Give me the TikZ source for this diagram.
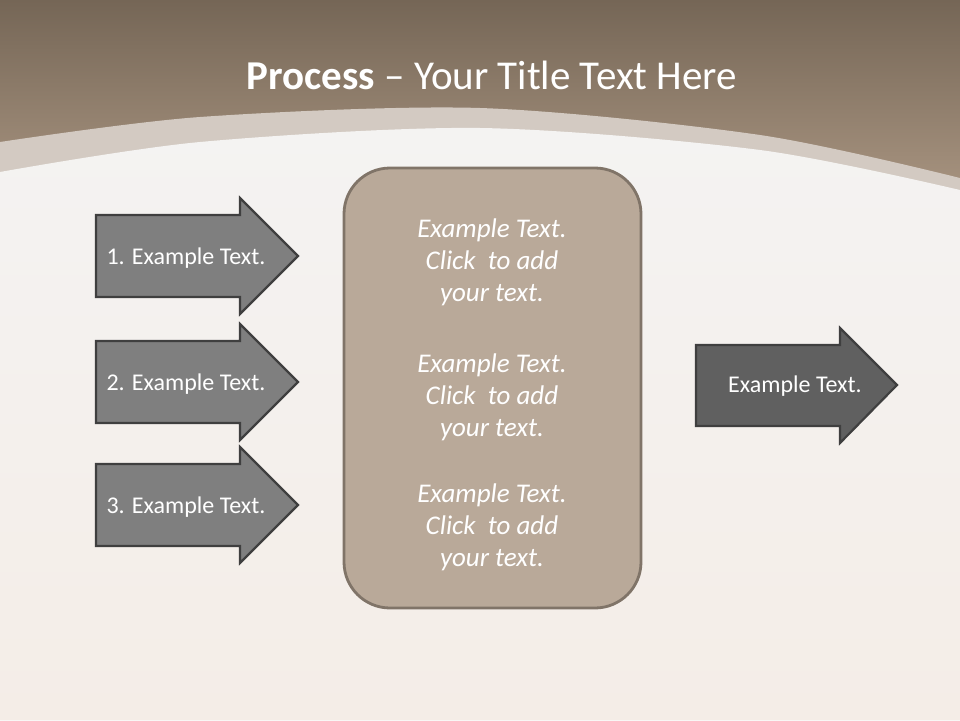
\documentclass[tikz,border=0pt]{standalone}
\usepackage{fontspec}
\setmainfont{Carlito}
\usepackage{tikz}
\usetikzlibrary{positioning}

\definecolor{topdark}{HTML}{756656}
\definecolor{toplight}{HTML}{A99581}
\definecolor{bandgray}{HTML}{D3CAC2}
\definecolor{paper}{HTML}{F4F3F2}
\definecolor{paperwarm}{HTML}{F4EDE7}
\definecolor{boxfill}{HTML}{B9A999}
\definecolor{boxline}{HTML}{807468}
\definecolor{arrowgray}{HTML}{7F7F7F}
\definecolor{arrowdark}{HTML}{606060}
\definecolor{arrowline}{HTML}{3F3F3F}

\tikzset{
  arrowshape/.style={draw=arrowline, line width=2.2pt, line join=miter},
  arrowtext/.style={text=white, font=\fontsize{24}{28}\selectfont},
  boxtext/.style={text=white, align=center, font=\fontsize{27}{32}\selectfont\itshape}
}

\begin{document}
\begin{tikzpicture}[x=1pt,y=-1pt]
        \useasboundingbox (0,0) rectangle (960,720);
        % background
        \shade[top color=topdark, bottom color=toplight] (0,0) rectangle (960,200);
        \fill[bandgray] plot[smooth] coordinates {(0,142) (200,117) (480,108) (760,135) (960,178)} -- (960,720) -- (0,720) -- cycle;
        \shade[top color=paper, bottom color=paperwarm] plot[smooth] coordinates {(0,172) (200,142) (480,128) (760,150) (960,190)} -- (960,720) -- (0,720) -- cycle;
        \node[text=white, font=\fontsize{41}{46}\selectfont] (title) at (492,75) {\textbf{Process} -- Your Title Text Here};
        % centre box
        \draw[fill=boxfill, draw=boxline, line width=2.8pt, rounded corners=46pt] (344,168) rectangle (641,608);
        \foreach \n/\y in {1/262,2/397,3/527}
         {
        \node[boxtext] (note\n) at (492,\y) {Example Text.\\Click~ to add\\your text.};
         }
        % input arrows
        \foreach \n/\y in {1/256,2/382,3/505}
         {
        \draw[arrowshape, fill=arrowgray] (96,\y-41) -- (240,\y-41) -- (240,\y-58) -- (298,\y) -- (240,\y+58) -- (240,\y+41) -- (96,\y+41) -- cycle;
        \node[arrowtext] (input\n) at (186,\y+2) {\n. Example Text.};
         }
        % output arrow
        \draw[arrowshape, fill=arrowdark] (696,345) -- (840,345) -- (840,328) -- (897,385) -- (840,443) -- (840,426) -- (696,426) -- cycle;
        \node[arrowtext] (output) at (795,386) {Example Text.};
\end{tikzpicture}
\end{document}
